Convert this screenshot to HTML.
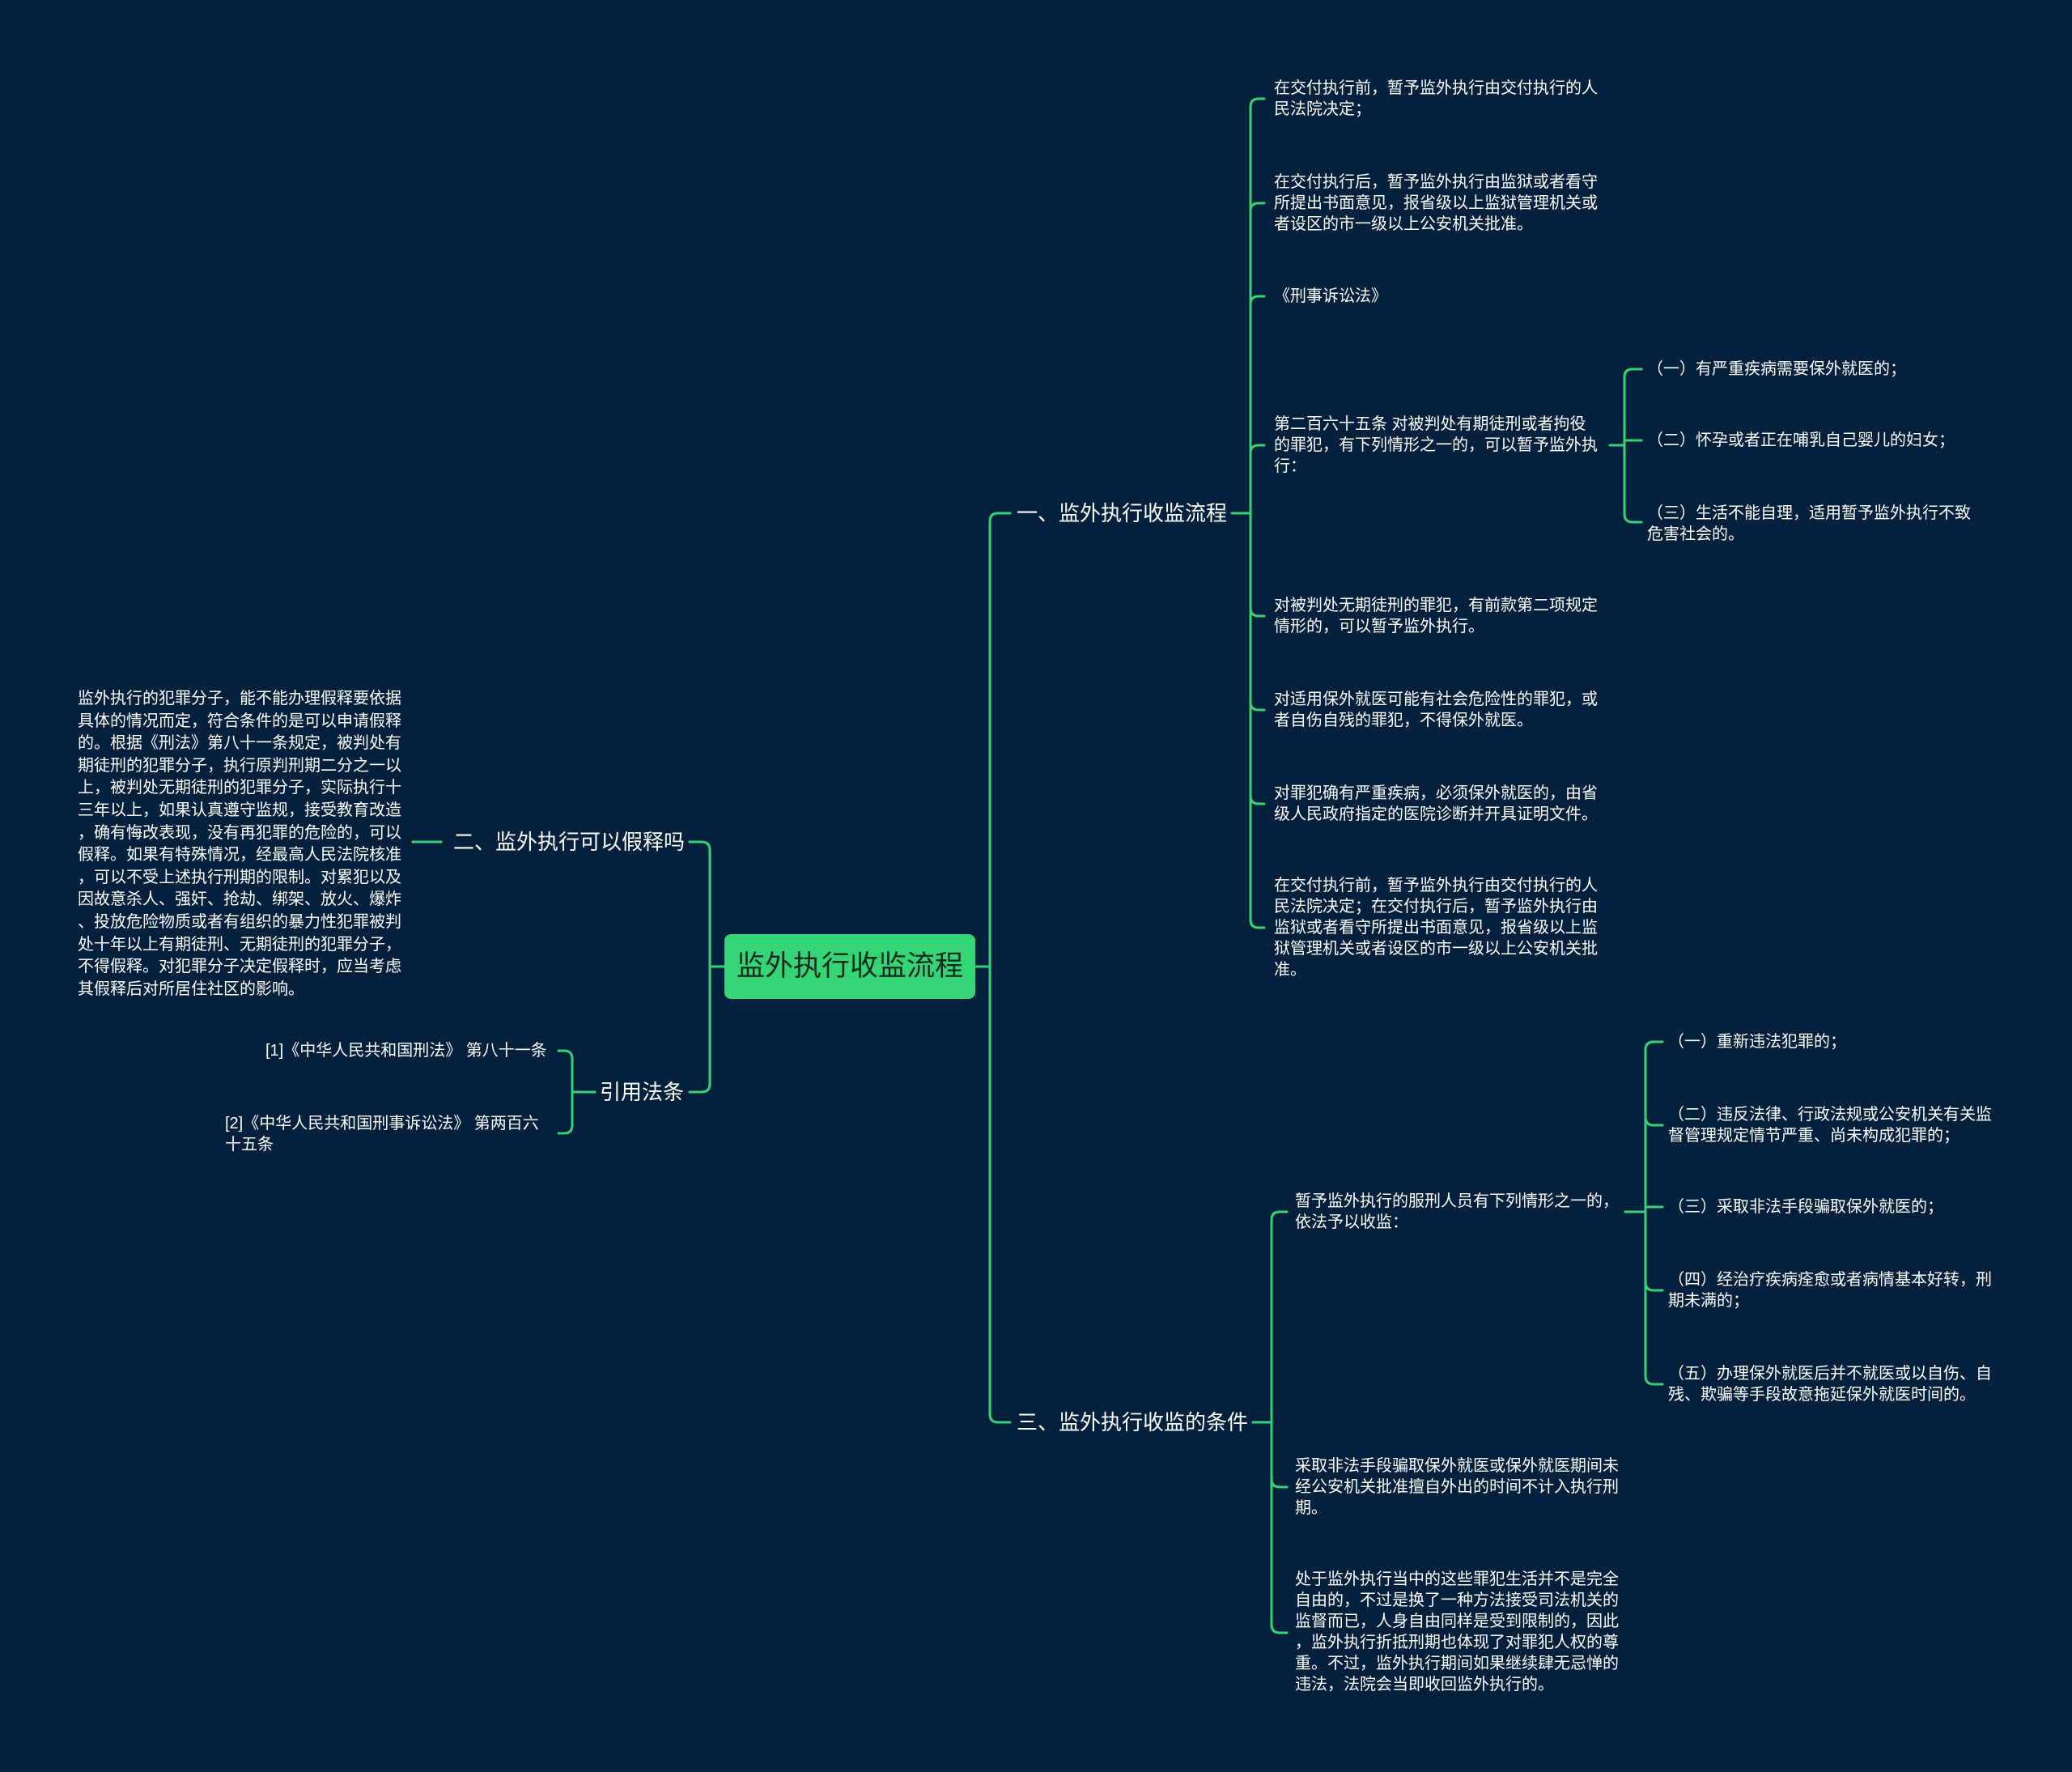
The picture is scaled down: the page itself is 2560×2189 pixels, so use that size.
<!DOCTYPE html>
<html><head><meta charset="utf-8">
<style>
html,body{margin:0;padding:0;}
body{width:2560px;height:2189px;background:#03203d;position:relative;overflow:hidden;font-family:"Liberation Sans","Noto Sans CJK SC",sans-serif;color:#fff;}
.t{position:absolute;font-size:20px;line-height:26px;white-space:nowrap;}
.b{position:absolute;font-size:26px;line-height:32px;white-space:nowrap;}
svg{position:absolute;left:0;top:0;}
</style></head><body>
<svg width="2560" height="2189" fill="none" stroke="#37d276" stroke-width="3" stroke-linecap="round">
<!-- root right -->
<path d="M1205,1194 H1223"/>
<path d="M1223,1194 V644 Q1223,634 1233,634 H1248"/>
<path d="M1223,1194 V1747 Q1223,1757 1233,1757 H1248"/>
<!-- root left -->
<path d="M895,1194 H877"/>
<path d="M877,1194 V1050 Q877,1040 867,1040 H852"/>
<path d="M877,1194 V1339 Q877,1349 867,1349 H852"/>
<!-- 二 to text -->
<path d="M545,1040 H510"/>
<!-- 引用法条 -->
<path d="M735,1349 H707"/>
<path d="M707,1349 V1308 Q707,1298 697,1298 H690"/>
<path d="M707,1349 V1390 Q707,1400 697,1400 H690"/>
<!-- branch 1 -->
<path d="M1522,634 H1545"/>
<path d="M1545,634 V132 Q1545,122 1555,122 H1562"/>
<path d="M1545,634 V261 Q1545,251 1555,251 H1562"/>
<path d="M1545,634 V376 Q1545,366 1555,366 H1562"/>
<path d="M1545,634 V560 Q1545,550 1555,550 H1562"/>
<path d="M1545,634 V751 Q1545,761 1555,761 H1562"/>
<path d="M1545,634 V867 Q1545,877 1555,877 H1562"/>
<path d="M1545,634 V983 Q1545,993 1555,993 H1562"/>
<path d="M1545,634 V1136 Q1545,1146 1555,1146 H1562"/>
<!-- item4 subs -->
<path d="M1989,550 H2007"/>
<path d="M2007,550 V466 Q2007,456 2017,456 H2028"/>
<path d="M2007,550 V544 H2028"/>
<path d="M2007,550 V635 Q2007,645 2017,645 H2028"/>
<!-- branch 3 -->
<path d="M1548,1757 H1571"/>
<path d="M1571,1757 V1507 Q1571,1497 1581,1497 H1590"/>
<path d="M1571,1757 V1827 Q1571,1837 1581,1837 H1590"/>
<path d="M1571,1757 V2007 Q1571,2017 1581,2017 H1590"/>
<!-- item a subs -->
<path d="M2008,1497 H2033"/>
<path d="M2033,1497 V1297 Q2033,1287 2043,1287 H2054"/>
<path d="M2033,1497 V1380 Q2033,1390 2043,1390 H2054"/>
<path d="M2033,1497 V1491 H2054"/>
<path d="M2033,1497 V1584 Q2033,1594 2043,1594 H2054"/>
<path d="M2033,1497 V1700 Q2033,1710 2043,1710 H2054"/>
</svg>

<div style="position:absolute;left:895px;top:1154px;width:310px;height:80px;background:#33d575;border-radius:8px;color:#0f2a1e;font-size:35px;line-height:80px;text-align:center;">监外执行收监流程</div>

<div class="b" style="left:1256px;top:618px;">一、监外执行收监流程</div>
<div class="b" style="left:1256px;top:1741px;">三、监外执行收监的条件</div>
<div class="b" style="left:560px;top:1024px;">二、监外执行可以假释吗</div>
<div class="b" style="left:741px;top:1333px;">引用法条</div>

<div class="t" style="left:96px;top:850px;line-height:27.6px;">监外执行的犯罪分子，能不能办理假释要依据<br>具体的情况而定，符合条件的是可以申请假释<br>的。根据《刑法》第八十一条规定，被判处有<br>期徒刑的犯罪分子，执行原判刑期二分之一以<br>上，被判处无期徒刑的犯罪分子，实际执行十<br>三年以上，如果认真遵守监规，接受教育改造<br>，确有悔改表现，没有再犯罪的危险的，可以<br>假释。如果有特殊情况，经最高人民法院核准<br>，可以不受上述执行刑期的限制。对累犯以及<br>因故意杀人、强奸、抢劫、绑架、放火、爆炸<br>、投放危险物质或者有组织的暴力性犯罪被判<br>处十年以上有期徒刑、无期徒刑的犯罪分子，<br>不得假释。对犯罪分子决定假释时，应当考虑<br>其假释后对所居住社区的影响。</div>

<div class="t" style="left:328px;top:1285px;">[1]《中华人民共和国刑法》 第八十一条</div>
<div class="t" style="left:278px;top:1375px;">[2]《中华人民共和国刑事诉讼法》 第两百六<br>十五条</div>

<div class="t" style="left:1574px;top:96px;">在交付执行前，暂予监外执行由交付执行的人<br>民法院决定；</div>
<div class="t" style="left:1574px;top:212px;">在交付执行后，暂予监外执行由监狱或者看守<br>所提出书面意见，报省级以上监狱管理机关或<br>者设区的市一级以上公安机关批准。</div>
<div class="t" style="left:1574px;top:353px;">《刑事诉讼法》</div>
<div class="t" style="left:1574px;top:511px;">第二百六十五条 对被判处有期徒刑或者拘役<br>的罪犯，有下列情形之一的，可以暂予监外执<br>行：</div>
<div class="t" style="left:1574px;top:735px;">对被判处无期徒刑的罪犯，有前款第二项规定<br>情形的，可以暂予监外执行。</div>
<div class="t" style="left:1574px;top:851px;">对适用保外就医可能有社会危险性的罪犯，或<br>者自伤自残的罪犯，不得保外就医。</div>
<div class="t" style="left:1574px;top:967px;">对罪犯确有严重疾病，必须保外就医的，由省<br>级人民政府指定的医院诊断并开具证明文件。</div>
<div class="t" style="left:1574px;top:1081px;">在交付执行前，暂予监外执行由交付执行的人<br>民法院决定；在交付执行后，暂予监外执行由<br>监狱或者看守所提出书面意见，报省级以上监<br>狱管理机关或者设区的市一级以上公安机关批<br>准。</div>

<div class="t" style="left:2035px;top:443px;">（一）有严重疾病需要保外就医的；</div>
<div class="t" style="left:2035px;top:531px;">（二）怀孕或者正在哺乳自己婴儿的妇女；</div>
<div class="t" style="left:2035px;top:621px;">（三）生活不能自理，适用暂予监外执行不致<br>危害社会的。</div>

<div class="t" style="left:1600px;top:1471px;">暂予监外执行的服刑人员有下列情形之一的，<br>依法予以收监：</div>
<div class="t" style="left:1600px;top:1798px;">采取非法手段骗取保外就医或保外就医期间未<br>经公安机关批准擅自外出的时间不计入执行刑<br>期。</div>
<div class="t" style="left:1600px;top:1938px;">处于监外执行当中的这些罪犯生活并不是完全<br>自由的，不过是换了一种方法接受司法机关的<br>监督而已，人身自由同样是受到限制的，因此<br>，监外执行折抵刑期也体现了对罪犯人权的尊<br>重。不过，监外执行期间如果继续肆无忌惮的<br>违法，法院会当即收回监外执行的。</div>

<div class="t" style="left:2061px;top:1274px;">（一）重新违法犯罪的；</div>
<div class="t" style="left:2061px;top:1364px;">（二）违反法律、行政法规或公安机关有关监<br>督管理规定情节严重、尚未构成犯罪的；</div>
<div class="t" style="left:2061px;top:1478px;">（三）采取非法手段骗取保外就医的；</div>
<div class="t" style="left:2061px;top:1568px;">（四）经治疗疾病痊愈或者病情基本好转，刑<br>期未满的；</div>
<div class="t" style="left:2061px;top:1684px;">（五）办理保外就医后并不就医或以自伤、自<br>残、欺骗等手段故意拖延保外就医时间的。</div>
</body></html>
